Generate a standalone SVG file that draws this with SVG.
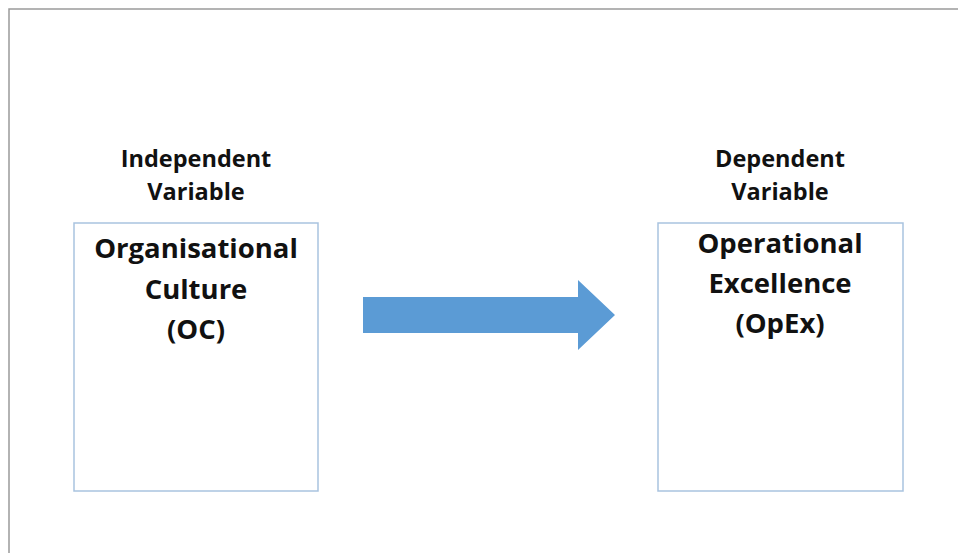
<svg xmlns="http://www.w3.org/2000/svg" width="958" height="553" viewBox="0 0 958 553">
  <style>
    .frame { fill: none; stroke: #9a9a9a; stroke-width: 1.5; }
    .box { fill: #ffffff; stroke: #a9c3df; stroke-width: 1.5; }
    .label { font-family: "Open Sans", "Liberation Sans", sans-serif; font-weight: bold; fill: #111111; text-anchor: middle; }
    .small { font-size: 23.5px; }
    .big { font-size: 27.5px; }
    .arrow { fill: #5b9bd5; }
  </style>
  <rect width="958" height="553" fill="#ffffff"/>
  <!-- outer frame: left and top edges only -->
  <path class="frame" d="M9,553 V9 H958"/>

  <g id="independent">
    <text class="label small" x="196" y="167">Independent</text>
    <text class="label small" x="196" y="200">Variable</text>
    <rect class="box" x="74" y="223" width="244" height="268"/>
    <text class="label big" x="196" y="258">Organisational</text>
    <text class="label big" x="196" y="299">Culture</text>
    <text class="label big" x="196" y="339">(OC)</text>
  </g>

  <g id="dependent">
    <text class="label small" x="780" y="167">Dependent</text>
    <text class="label small" x="780" y="200">Variable</text>
    <rect class="box" x="658" y="223" width="245" height="268"/>
    <text class="label big" x="780" y="253">Operational</text>
    <text class="label big" x="780" y="293">Excellence</text>
    <text class="label big" x="780" y="333">(OpEx)</text>
  </g>

  <g id="connectors">
    <path class="arrow" d="M363,297 H578 V280 L615,315 L578,350 V333 H363 Z"/>
  </g>
</svg>
